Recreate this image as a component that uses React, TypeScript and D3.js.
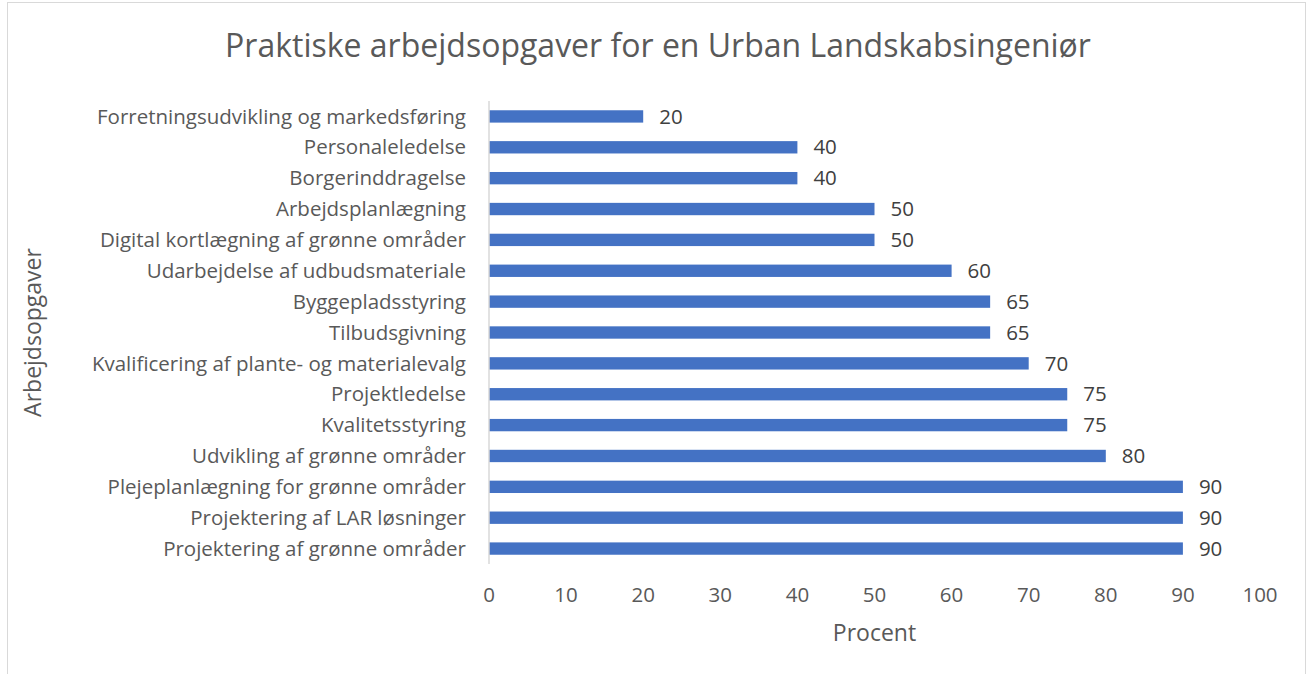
import React from "react";
import * as d3 from "d3";

const categories = [
  "Forretningsudvikling og markedsføring",
  "Personaleledelse",
  "Borgerinddragelse",
  "Arbejdsplanlægning",
  "Digital kortlægning af grønne områder",
  "Udarbejdelse af udbudsmateriale",
  "Byggepladsstyring",
  "Tilbudsgivning",
  "Kvalificering af plante- og materialevalg",
  "Projektledelse",
  "Kvalitetsstyring",
  "Udvikling af grønne områder",
  "Plejeplanlægning for grønne områder",
  "Projektering af LAR løsninger",
  "Projektering af grønne områder",
];
const values = [20, 40, 40, 50, 50, 60, 65, 65, 70, 75, 75, 80, 90, 90, 90];
const xTicks = [0, 10, 20, 30, 40, 50, 60, 70, 80, 90, 100];
const title = "Praktiske arbejdsopgaver for en Urban Landskabsingeniør";
const xTitle = "Procent";
const yTitle = "Arbejdsopgaver";

export default function App() {
  const W = 1307, H = 674;
  const left = 489, right = 1260, top = 101, bottom = 564;
  const x = d3.scaleLinear().domain([0, 100]).range([left, right]);
  const y = d3.scaleBand<string>().domain(categories).range([top, bottom]).paddingInner(0.6).paddingOuter(0.3);
  const font = "'Open Sans', sans-serif";
  const col = "#595959";
  return (
    <svg width={W} height={H} style={{ position: "absolute", left: 0, top: 0, background: "#fff" }} fontFamily={font}>
      <rect x={7.5} y={2.5} width={1298} height={680} fill="#fff" stroke="#d9d9d9" strokeWidth={1} />
      <text x={658} y={57} textAnchor="middle" fontSize={32} fill={col}>{title}</text>
      {categories.map((c, i) => (
        <g key={c}>
          <rect x={x(0)} y={y(c)!} width={x(values[i]) - x(0)} height={y.bandwidth()} fill="#4472C4" />
          <text x={466} y={y(c)! + y.bandwidth() / 2} dy="0.35em" textAnchor="end" fontSize={20.5} fill={col}>{c}</text>
          <text x={x(values[i]) + 16} y={y(c)! + y.bandwidth() / 2} dy="0.35em" fontSize={20.5} fill="#404040">{values[i]}</text>
        </g>
      ))}
      <line x1={left} x2={left} y1={top} y2={bottom} stroke="#d9d9d9" strokeWidth={1.5} />
      {xTicks.map((t) => (
        <text key={t} x={x(t)} y={595} dy="0.35em" textAnchor="middle" fontSize={20.5} fill={col}>{t}</text>
      ))}
      <text x={(left + right) / 2} y={633} dy="0.35em" textAnchor="middle" fontSize={23} fill={col}>{xTitle}</text>
      <text transform={`translate(33, ${(top + bottom) / 2}) rotate(-90)`} dy="0.35em" textAnchor="middle" fontSize={23} fill={col}>{yTitle}</text>
    </svg>
  );
}
